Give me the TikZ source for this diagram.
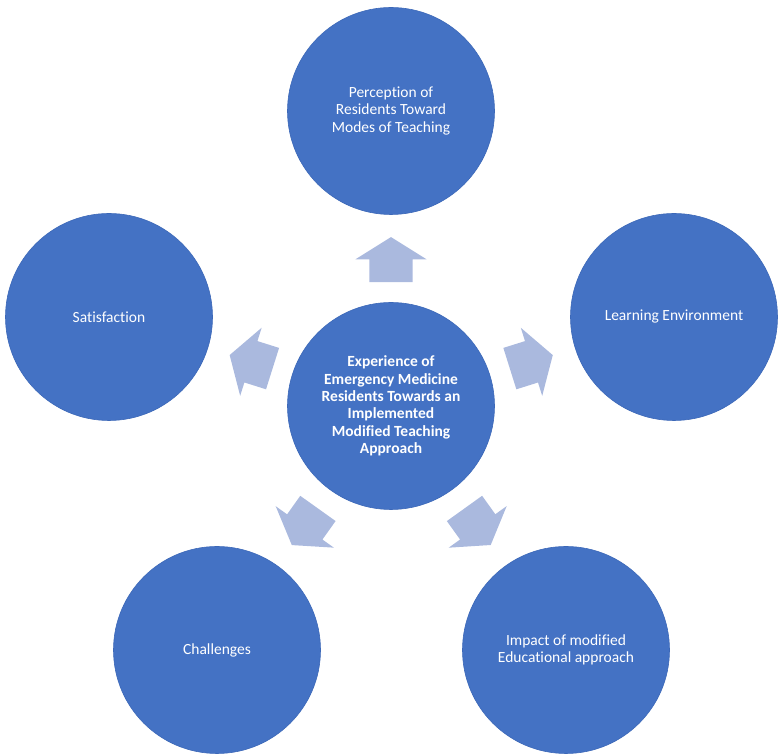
\documentclass[tikz,border=0pt]{standalone}
\usepackage{fontspec}
\setmainfont{Carlito}[Ligatures=NoCommon]
\usetikzlibrary{shapes.arrows}
\definecolor{ringblue}{RGB}{68,114,196}
\definecolor{ringedge}{RGB}{60,104,184}
\definecolor{arrowblue}{RGB}{170,185,222}
\tikzset{
  topic/.style={circle,fill=ringblue,draw=ringedge,line width=.6pt,minimum size=207pt,inner sep=0pt,
    text=white,align=center,font=\fontsize{15.5}{17.3}\selectfont},
  core/.style={topic,font=\fontsize{15.5}{17.3}\selectfont\bfseries},
  spoke/.style={single arrow,fill=arrowblue,draw=none,inner xsep=0pt,inner ysep=21.5pt,
    minimum height=45pt,single arrow head extend=14pt,
    single arrow tip angle=116,sloped,allow upside down,pos=.41}
}
\begin{document}
\begin{tikzpicture}[x=1pt,y=1pt]
\useasboundingbox (0,0) rectangle (780,754);
\node[core] (hub) at (391,348) {Experience of\\Emergency Medicine\\Residents Towards an\\Implemented\\Modified Teaching\\Approach};
\node[topic] (percep) at (391,643) {Perception of\\Residents Toward\\Modes of Teaching};
\node[topic] (learn) at (674,437) {Learning Environment};
\node[topic] (satis) at (109,437) {Satisfaction};
\node[topic] (chall) at (217,104) {Challenges};
\node[topic] (impact) at (566,104) {Impact of modified\\Educational approach};
\path (hub) -- (percep) node[spoke] {};
\path (hub) -- (learn) node[spoke] {};
\path (hub) -- (satis) node[spoke] {};
\path (hub) -- (chall) node[spoke] {};
\path (hub) -- (impact) node[spoke] {};
\end{tikzpicture}
\end{document}
